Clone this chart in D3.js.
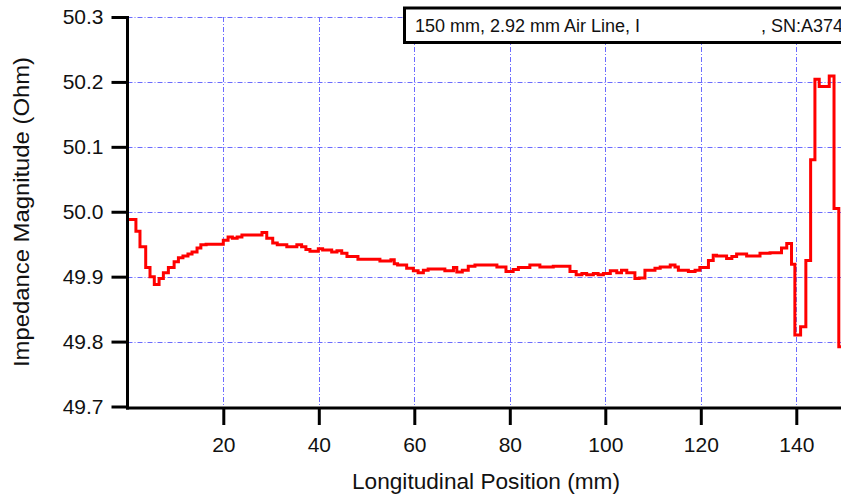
<!DOCTYPE html>
<html>
<head>
<meta charset="utf-8">
<script src="https://cdn.jsdelivr.net/npm/d3@7"></script>
<style>
  html, body { margin: 0; padding: 0; background: #fff; }
  svg { display: block; font-family: "Liberation Sans", Arial, sans-serif; }
</style>
</head>
<body>
<svg id="chart" width="841" height="496"></svg>
<script>
// ---- data (step breakpoints: position in mm, impedance in Ohm) ----
const positions = [0, 1.7, 2.55, 3.75, 4.65, 5.55, 6.55, 7.45, 8.5, 9.7, 10.6, 11.55, 12.6, 13.45, 14.5, 15.3, 16.4,
  20.0, 21.0, 21.9, 22.9, 23.9, 28.1, 29.1, 30.35, 31.3, 33.3, 35.4, 36.4, 37.3, 38.15, 39.9, 40.8, 42.7, 43.8, 44.8,
  45.9, 48.2, 52.8, 55.1, 55.8, 56.5, 58.4, 59.8, 60.8, 61.9, 62.9, 66.4, 68.2, 68.9, 70.05, 71.3, 72.7, 77.3, 79.2,
  80.7, 81.8, 84.2, 86.3, 89.1, 92.6, 93.9, 95.1, 96.1, 97.5, 98.5, 99.6, 101.05, 102.4, 103.4, 104.5, 106.2, 107.1,
  108.3, 110.4, 111.5, 113.6, 114.6, 115.3, 117.4, 118.8, 119.8, 121.6, 122.6, 123.3, 125.4, 126.5, 127.5, 129.6,
  131.0, 132.4, 134.5, 136.9, 138.0, 139.0, 139.7, 140.9, 142.0, 143.0, 143.9, 144.8, 146.9, 147.9, 148.9, 150];
const impedance = [49.988, 49.970, 49.946, 49.914, 49.900, 49.888, 49.897, 49.906, 49.914, 49.923, 49.929, 49.932, 49.935, 49.938, 49.944, 49.949, 49.950,
  49.956, 49.961, 49.959, 49.961, 49.964, 49.968, 49.959, 49.952, 49.949, 49.946, 49.949, 49.946, 49.942, 49.939, 49.943, 49.941, 49.938, 49.940, 49.936,
  49.931, 49.927, 49.924, 49.926, 49.920, 49.918, 49.913, 49.909, 49.906, 49.910, 49.912, 49.909, 49.914, 49.907, 49.910, 49.916, 49.918, 49.915, 49.908,
  49.911, 49.914, 49.918, 49.915, 49.916, 49.908, 49.903, 49.905, 49.903, 49.905, 49.903, 49.905, 49.909, 49.906, 49.910, 49.906, 49.897, 49.898,
  49.910, 49.913, 49.915, 49.918, 49.915, 49.910, 49.908, 49.910, 49.914, 49.925, 49.933, 49.932, 49.928, 49.931, 49.935, 49.932,
  49.932, 49.936, 49.937, 49.944, 49.951, 49.919, 49.810, 49.823, 49.925, 50.080, 50.204, 50.193, 50.209, 50.005, 49.792, 49.792];
const xTicks = [20, 40, 60, 80, 100, 120, 140];
const yTicks = [49.7, 49.8, 49.9, 50.0, 50.1, 50.2, 50.3];
const xTitle = "Longitudinal Position (mm)";
const yTitle = "Impedance Magnitude (Ohm)";
const legendLeft = "150 mm, 2.92 mm Air Line, I";
const legendRight = ", SN:A374";

// ---- layout ----
const svg = d3.select("#chart");
const x0 = 127.5, xAxisY = 408;
const x = d3.scaleLinear().domain([0, 150]).range([127.8, 127.8 + 150 * 4.775]);
const y = d3.scaleLinear().domain([49.7, 50.3]).range([406.5, 17]);
const gridColor = "#6b6bff";

svg.append("rect").attr("width", 841).attr("height", 496).attr("fill", "#fff");

// grid
const grid = svg.append("g").attr("stroke", gridColor).attr("stroke-width", 1)
  .attr("stroke-dasharray", "5,2,1,2").attr("fill", "none");
grid.selectAll("line.h").data(yTicks.filter(d => d > 49.75)).enter().append("line")
  .attr("x1", x0).attr("x2", 841)
  .attr("y1", d => Math.round(y(d)) + 0.5).attr("y2", d => Math.round(y(d)) + 0.5);
grid.selectAll("line.v").data(xTicks).enter().append("line")
  .attr("y1", y(50.3)).attr("y2", xAxisY)
  .attr("x1", d => Math.round(x(d)) + 0.5).attr("x2", d => Math.round(x(d)) + 0.5);

// data line
const pts = positions.map((p, i) => [p, impedance[i]]);
const line = d3.line().x(d => x(d[0])).y(d => y(d[1])).curve(d3.curveStepAfter);
svg.append("path").datum(pts).attr("d", line)
  .attr("fill", "none").attr("stroke", "#ff0000").attr("stroke-width", 3)
  .attr("stroke-linejoin", "miter");

// axes
const yAxis = d3.axisLeft(y).tickValues(yTicks).tickSize(16).tickPadding(8).tickFormat(d3.format(".1f"));
const gy = svg.append("g").attr("transform", `translate(${x0},0)`).call(yAxis);
gy.select(".domain").remove();
gy.selectAll(".tick line").attr("stroke", "#000").attr("stroke-width", 3);
gy.selectAll(".tick text").attr("font-size", 21).attr("fill", "#111")
  .attr("font-family", "'Liberation Sans', Arial, sans-serif").attr("x", -24);

const xAxis = d3.axisBottom(x).tickValues(xTicks).tickSize(17).tickPadding(12).tickFormat(d3.format("d"));
const gx = svg.append("g").attr("transform", `translate(0,${xAxisY})`).call(xAxis);
gx.select(".domain").remove();
gx.selectAll(".tick line").attr("stroke", "#000").attr("stroke-width", 3);
gx.selectAll(".tick text").attr("font-size", 21).attr("fill", "#111")
  .attr("font-family", "'Liberation Sans', Arial, sans-serif");

// axis lines
svg.append("line").attr("x1", x0).attr("x2", x0).attr("y1", 16).attr("y2", xAxisY + 1.5)
  .attr("stroke", "#000").attr("stroke-width", 3);
svg.append("line").attr("x1", x0 - 1.5).attr("x2", 841).attr("y1", xAxisY).attr("y2", xAxisY)
  .attr("stroke", "#000").attr("stroke-width", 3);

// titles
svg.append("text").attr("x", 486).attr("y", 489).attr("text-anchor", "middle")
  .attr("font-size", 22).attr("fill", "#111").attr("textLength", 268).attr("lengthAdjust", "spacingAndGlyphs")
  .text(xTitle);
svg.append("text").attr("transform", "translate(29,212) rotate(-90)").attr("text-anchor", "middle")
  .attr("font-size", 22).attr("fill", "#111").attr("textLength", 310).attr("lengthAdjust", "spacingAndGlyphs")
  .text(yTitle);

// legend box
svg.append("rect").attr("x", 404.5).attr("y", 8).attr("width", 460).attr("height", 34.5)
  .attr("fill", "#fff").attr("stroke", "#000").attr("stroke-width", 3);
svg.append("text").attr("x", 415).attr("y", 32).attr("font-size", 18).attr("fill", "#111").text(legendLeft);
svg.append("text").attr("x", 761).attr("y", 32).attr("font-size", 18).attr("fill", "#111").text(legendRight);
</script>
</body>
</html>
